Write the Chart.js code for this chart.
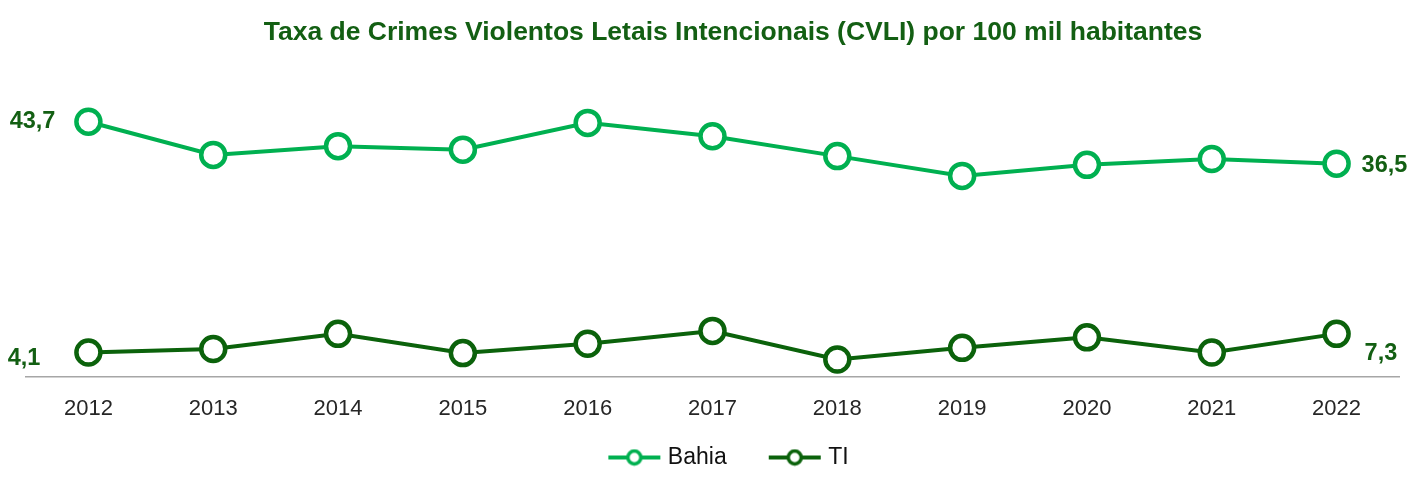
<!DOCTYPE html>
<html>
<head>
<meta charset="utf-8">
<script src="https://cdn.jsdelivr.net/npm/chart.js@4.4.0/dist/chart.umd.min.js"></script>
<style>
  body { margin: 0; background: #fff; }
  #wrap { width: 1411px; height: 479px; }
</style>
</head>
<body>
<div id="wrap"><canvas id="myChart"></canvas></div>
<script>
var years = ['2012','2013','2014','2015','2016','2017','2018','2019','2020','2021','2022'];
var bahia = [43.7, 38.0, 39.5, 38.9, 43.5, 41.2, 37.8, 34.4, 36.3, 37.3, 36.5];
var ti = [4.1, 4.7, 7.3, 4.0, 5.6, 7.8, 2.9, 4.9, 6.7, 4.1, 7.3];
var chartTitle = 'Taxa de Crimes Violentos Letais Intencionais (CVLI) por 100 mil habitantes';

var lightGreen = '#00b050';
var darkGreen = '#0b620b';
var labelGreen = '#135f13';
var fontFam = '"Liberation Sans", Arial, sans-serif';

// line + circle image for the legend, blank room on the left acts as item spacing
function legendIcon(color) {
  var c = document.createElement('canvas');
  c.width = 90; c.height = 18;
  var g = c.getContext('2d');
  g.strokeStyle = color;
  g.lineWidth = 4;
  g.beginPath(); g.moveTo(37, 9); g.lineTo(89, 9); g.stroke();
  g.fillStyle = '#fff';
  g.lineWidth = 3.5;
  g.beginPath(); g.arc(63, 9, 6.5, 0, Math.PI * 2); g.fill(); g.stroke();
  return c;
}

// title drawn by hand so it can sit a bit right of centre like the original
var titlePlugin = {
  id: 'titlePlugin',
  afterDraw: function(chart) {
    var ctx = chart.ctx;
    ctx.save();
    ctx.font = 'bold 26.5px ' + fontFam;
    ctx.fillStyle = labelGreen;
    ctx.textAlign = 'center';
    ctx.textBaseline = 'middle';
    ctx.fillText(chartTitle, 733, 33);
    ctx.restore();
  }
};

// value labels on first and last points only
var endLabels = {
  id: 'endLabels',
  afterDatasetsDraw: function(chart) {
    var ctx = chart.ctx;
    var offs = [
      [[-33, 0, 'right'], [25, 2, 'left']],
      [[-48, 6, 'right'], [28, 20, 'left']]
    ];
    ctx.save();
    ctx.font = 'bold 23.5px ' + fontFam;
    ctx.fillStyle = labelGreen;
    ctx.textBaseline = 'middle';
    chart.data.datasets.forEach(function(ds, di) {
      var meta = chart.getDatasetMeta(di);
      [0, ds.data.length - 1].forEach(function(idx, k) {
        var pt = meta.data[idx];
        var o = offs[di][k];
        ctx.textAlign = o[2];
        ctx.fillText(ds.data[idx].toFixed(1).replace('.', ','), pt.x + o[0], pt.y + o[1]);
      });
    });
    ctx.restore();
  }
};

var ctx = document.getElementById('myChart');
new Chart(ctx, {
  type: 'line',
  data: {
    labels: years,
    datasets: [
      {
        label: 'Bahia',
        data: bahia,
        borderColor: lightGreen,
        backgroundColor: '#fff',
        borderWidth: 4,
        pointRadius: 12,
        pointBorderWidth: 4.5,
        pointBackgroundColor: '#fff',
        pointBorderColor: lightGreen,
        tension: 0
      },
      {
        label: 'TI',
        data: ti,
        borderColor: darkGreen,
        backgroundColor: '#fff',
        borderWidth: 4,
        pointRadius: 12,
        pointBorderWidth: 4.5,
        pointBackgroundColor: '#fff',
        pointBorderColor: darkGreen,
        tension: 0
      }
    ]
  },
  options: {
    responsive: true,
    maintainAspectRatio: false,
    animation: false,
    layout: { autoPadding: false, padding: { left: 26, right: 12, top: 85, bottom: 0 } },
    scales: {
      x: {
        offset: true,
        grid: { display: false },
        border: { display: true, color: '#a6a6a6', width: 1.5 },
        ticks: {
          color: '#262626',
          padding: 11,
          font: { size: 22, family: fontFam }
        },
        // empty title only used as spacer above the legend
        title: {
          display: true,
          text: ' ',
          font: { size: 1 },
          padding: { top: 1, bottom: 1 }
        }
      },
      y: {
        display: false,
        min: 0,
        max: 50
      }
    },
    plugins: {
      title: { display: false },
      legend: {
        position: 'bottom',
        labels: {
          color: '#111',
          font: { size: 23, family: fontFam },
          usePointStyle: true,
          pointStyleWidth: 80,
          boxHeight: 18,
          padding: 10,
          generateLabels: function(chart) {
            return chart.data.datasets.map(function(ds, i) {
              return {
                text: ds.label,
                pointStyle: legendIcon(ds.borderColor),
                fillStyle: ds.borderColor,
                strokeStyle: ds.borderColor,
                fontColor: '#111',
                lineWidth: 0,
                datasetIndex: i
              };
            });
          }
        }
      },
      tooltip: { enabled: false }
    }
  },
  plugins: [endLabels, titlePlugin]
});
</script>
</body>
</html>
